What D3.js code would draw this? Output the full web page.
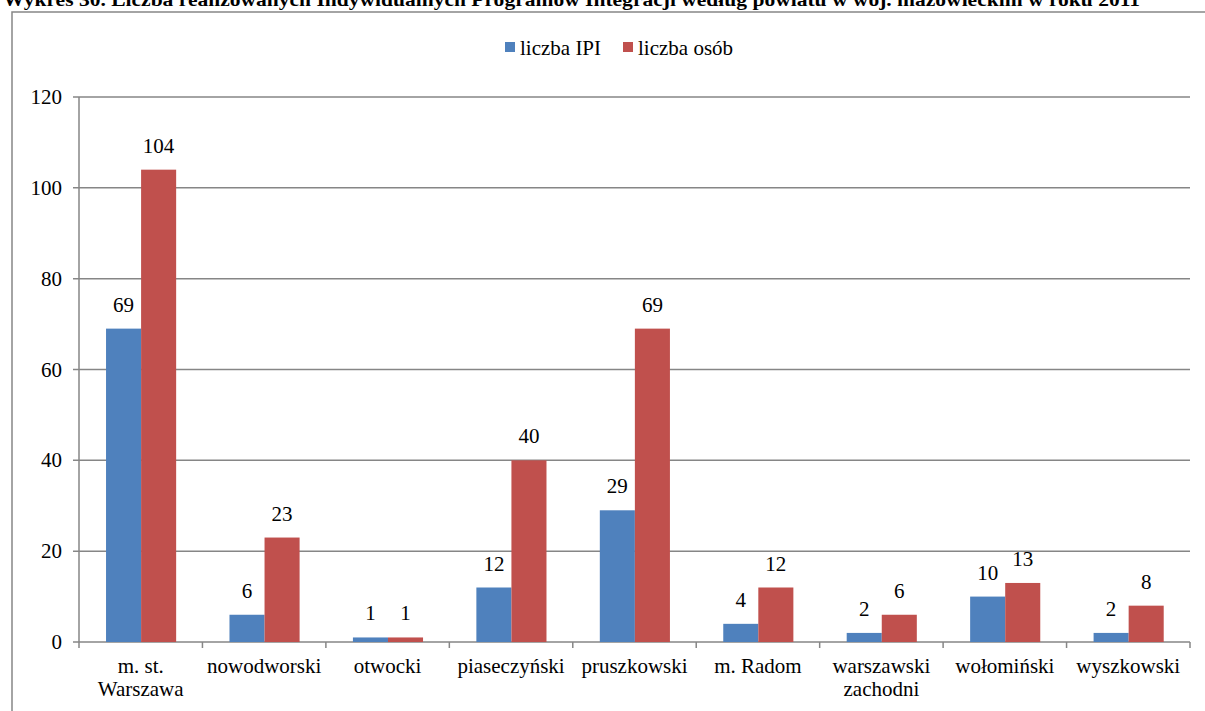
<!DOCTYPE html>
<html><head><meta charset="utf-8">
<script src="https://cdn.jsdelivr.net/npm/d3@7"></script>
<style>body{margin:0;background:#fff;overflow:hidden}svg{display:block}</style>
</head><body>
<script>
const title = "Wykres 30. Liczba realizowanych Indywidualnych Programów Integracji według powiatu w woj. mazowieckim w roku 2011";
const categories = [["m. st.","Warszawa"],["nowodworski"],["otwocki"],["piaseczyński"],["pruszkowski"],["m. Radom"],["warszawski","zachodni"],["wołomiński"],["wyszkowski"]];
const seriesNames = ["liczba IPI","liczba osób"];
const ipi = [69,6,1,12,29,4,2,10,2];
const osob = [104,23,1,40,69,12,6,13,8];
const yTicks = [0,20,40,60,80,100,120];
const colors = ["#4F81BD","#C0504D"];

const W=1205,H=711;
const svg=d3.select("body").append("svg").attr("width",W).attr("height",H);
const font="'Liberation Serif','Times New Roman',serif";
const gridColor="#868686";

// frame
svg.append("rect").attr("x",12).attr("y",12).attr("width",1250).attr("height",800)
  .attr("fill","none").attr("stroke",gridColor).attr("stroke-width",1.5);

// title
svg.append("text").attr("x",3).attr("y",6).attr("font-family",font).attr("font-weight","bold")
  .attr("font-size",18).attr("textLength",1137).attr("lengthAdjust","spacingAndGlyphs").text(title);

const x0=79,x1=1190,yb=642,yt=97;
const keys=categories.map((c,i)=>i);
const x=d3.scaleBand().domain(keys).range([x0,x1]).padding(0);
const bw=x.bandwidth();
const xs=d3.scaleBand().domain(seriesNames).range([bw*0.219,bw*0.787]).padding(0);
const y=d3.scaleLinear().domain([0,120]).range([yb,yt]);

// grid
const g=svg.append("g");
g.selectAll("line.grid").data(yTicks).join("line")
  .attr("x1",x0-6).attr("x2",x1).attr("y1",d=>y(d)).attr("y2",d=>y(d))
  .attr("stroke",gridColor).attr("stroke-width",1.5);
g.append("line").attr("x1",x0).attr("x2",x0).attr("y1",yt).attr("y2",yb)
  .attr("stroke",gridColor).attr("stroke-width",1.5);
// y labels
g.selectAll("text.yl").data(yTicks).join("text")
  .attr("x",62).attr("y",d=>y(d)+7).attr("text-anchor","end")
  .attr("font-family",font).attr("font-size",21).text(d=>d);
// x ticks
const bounds=keys.map(k=>x(k)).concat([x1]);
g.selectAll("line.xt").data(bounds).join("line")
  .attr("x1",d=>d).attr("x2",d=>d).attr("y1",yb).attr("y2",yb+6)
  .attr("stroke",gridColor).attr("stroke-width",1.5);

// bars
const data=[ipi,osob];
seriesNames.forEach((s,si)=>{
  const vals=data[si];
  svg.append("g").selectAll("rect").data(vals).join("rect")
    .attr("x",(d,i)=>x(i)+xs(s)).attr("width",xs.bandwidth())
    .attr("y",d=>y(d)).attr("height",d=>yb-y(d)).attr("fill",colors[si]);
  svg.append("g").selectAll("text").data(vals).join("text")
    .attr("x",(d,i)=>x(i)+xs(s)+xs.bandwidth()/2).attr("y",d=>y(d)-17)
    .attr("text-anchor","middle").attr("font-family",font).attr("font-size",21).text(d=>d);
});

// category labels
categories.forEach((c,i)=>{
  const t=svg.append("text").attr("x",x(i)+bw/2).attr("y",673).attr("text-anchor","middle")
    .attr("font-family",font).attr("font-size",21);
  c.forEach((line,li)=>t.append("tspan").attr("x",x(i)+bw/2).attr("dy",li?23:0).text(line));
});

// legend
const lg=svg.append("g");
const lx=[505,623];
seriesNames.forEach((s,i)=>{
  lg.append("rect").attr("x",lx[i]).attr("y",42).attr("width",10).attr("height",10).attr("fill",colors[i]);
  lg.append("text").attr("x",lx[i]+15).attr("y",55).attr("font-family",font).attr("font-size",21).text(s);
});
</script>
</body></html>
